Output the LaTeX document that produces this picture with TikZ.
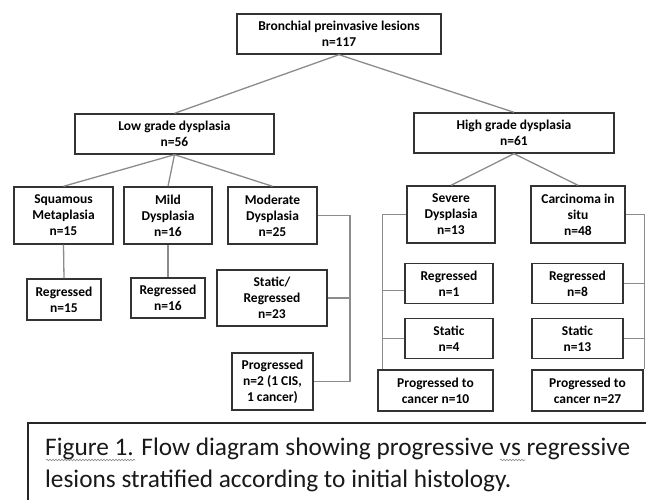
\documentclass[tikz,border=0pt]{standalone}
\usepackage{fontspec}
\setmainfont{Carlito}
\usetikzlibrary{calc,decorations.pathmorphing}

\tikzset{
  box/.style={draw=black!80, line width=1.4pt, fill=white, align=center, inner sep=0pt,
    text=black, font=\bfseries\fontsize{13.5}{16}\selectfont},
  link/.style={draw=black!45, line width=1.3pt},
  captext/.style={anchor=base west, inner sep=0pt, text=black!90, font=\fontsize{25.3}{32}\selectfont},
  squig/.style={draw=black!45, line width=0.6pt, decorate,
    decoration={snake, segment length=3pt, amplitude=0.8pt}},
}

\begin{document}
\begin{tikzpicture}[x=1pt, y=-1pt]
			%%%%% START %%%%%
			\clip (0,0) rectangle (646,500);
			\fill[white] (0,0) rectangle (646,500);
			
			\node[box, minimum width=204, minimum height=40] (root) at (339,34) {Bronchial preinvasive lesions\\n=117};
			
			\node[box, minimum width=199, minimum height=40] (low) at (174.5,134) {Low grade dysplasia\\n=56};
			\node[box, minimum width=200, minimum height=40] (high) at (514,133) {High grade dysplasia\\n=61};
			
			\node[box, minimum width=99, minimum height=57] (squam) at (63.5,215.5) {Squamous\\Metaplasia\\n=15};
			\node[box, minimum width=88, minimum height=57] (mild) at (168,215.5) {Mild\\Dysplasia\\n=16};
			\node[box, minimum width=89, minimum height=57] (moder) at (272.5,215.5) {Moderate\\Dysplasia\\n=25};
			\node[box, minimum width=88, minimum height=57] (severe) at (451,214.5) {Severe\\Dysplasia\\n=13};
			\node[box, minimum width=94, minimum height=57] (cis) at (578,214.5) {Carcinoma in\\situ\\n=48};
			
			\node[box, minimum width=74, minimum height=41] (regA) at (64,299.5) {Regressed\\n=15};
			\node[box, minimum width=74, minimum height=40] (regB) at (168,298) {Regressed\\n=16};
			\node[box, minimum width=110, minimum height=56] (statreg) at (272,298) {Static/\\Regressed\\n=23};
			\node[box, minimum width=81, minimum height=57] (progA) at (272.5,381.5) {Progressed\\n=2 (1 CIS,\\1 cancer)};
			
			\node[box, minimum width=88, minimum height=40] (regC) at (449,283.5) {Regressed\\n=1};
			\node[box, minimum width=88, minimum height=40] (statC) at (449,338.5) {Static\\n=4};
			\node[box, minimum width=115, minimum height=41] (progC) at (435.5,390.5) {Progressed to\\cancer n=10};
			
			\node[box, minimum width=91, minimum height=40] (regD) at (577.5,283.5) {Regressed\\n=8};
			\node[box, minimum width=91, minimum height=40] (statD) at (577.5,338.5) {Static\\n=13};
			\node[box, minimum width=111, minimum height=41] (progD) at (587.5,390.5) {Progressed to\\cancer n=27};
			
			% tree links
			\draw[link] (root.south) -- (low.north);
			\draw[link] (root.south) -- (high.north);
			\draw[link] (low.south) -- (squam.north);
			\draw[link] (low.south) -- (mild.north);
			\draw[link] (low.south) -- (moder.north);
			\draw[link] (high.south) -- (severe.north);
			\draw[link] (high.south) -- (cis.north);
			\draw[link] (squam.south) -- (regA.north);
			\draw[link] (mild.south) -- (regB.north);
			
			% brackets
			\coordinate (busA) at (350,300);
			\coordinate (busC) at (382.5,300);
			\coordinate (busD) at (644.5,300);
			
			\draw[link] (moder.east) -- (moder.east -| busA) -- (busA |- progA.east) -- (progA.east);
			\draw[link] (statreg.east) -- (statreg.east -| busA);
			
			\draw[link] (severe.west) -- (severe.west -| busC) -- (busC |- progC.north);
			\draw[link] ([yshift=-7pt]regC.west) -- ([yshift=-7pt]regC.west -| busC);
			\draw[link] (statC.west) -- (statC.west -| busC);
			
			\draw[link] (cis.east) -- (cis.east -| busD) -- (busD |- progD.north);
			\draw[link] (regD.east) -- (regD.east -| busD);
			\draw[link] (statD.east) -- (statD.east -| busD);
			
			% caption
			\draw[line width=1.5pt, draw=black!85] (28,423) rectangle (670,520);
			\node[captext] (capA) at (45,455) {Figure 1. Flow diagram showing progressive vs regressive};
			\node[captext] (capB) at (45,487) {lesions stratified according to initial histology.};
			\draw[squig] (46,460) -- (135,460);
			\draw[squig] (500,460) -- (525,460);
			
			%%%%% END %%%%%
		\end{tikzpicture}
\end{document}
